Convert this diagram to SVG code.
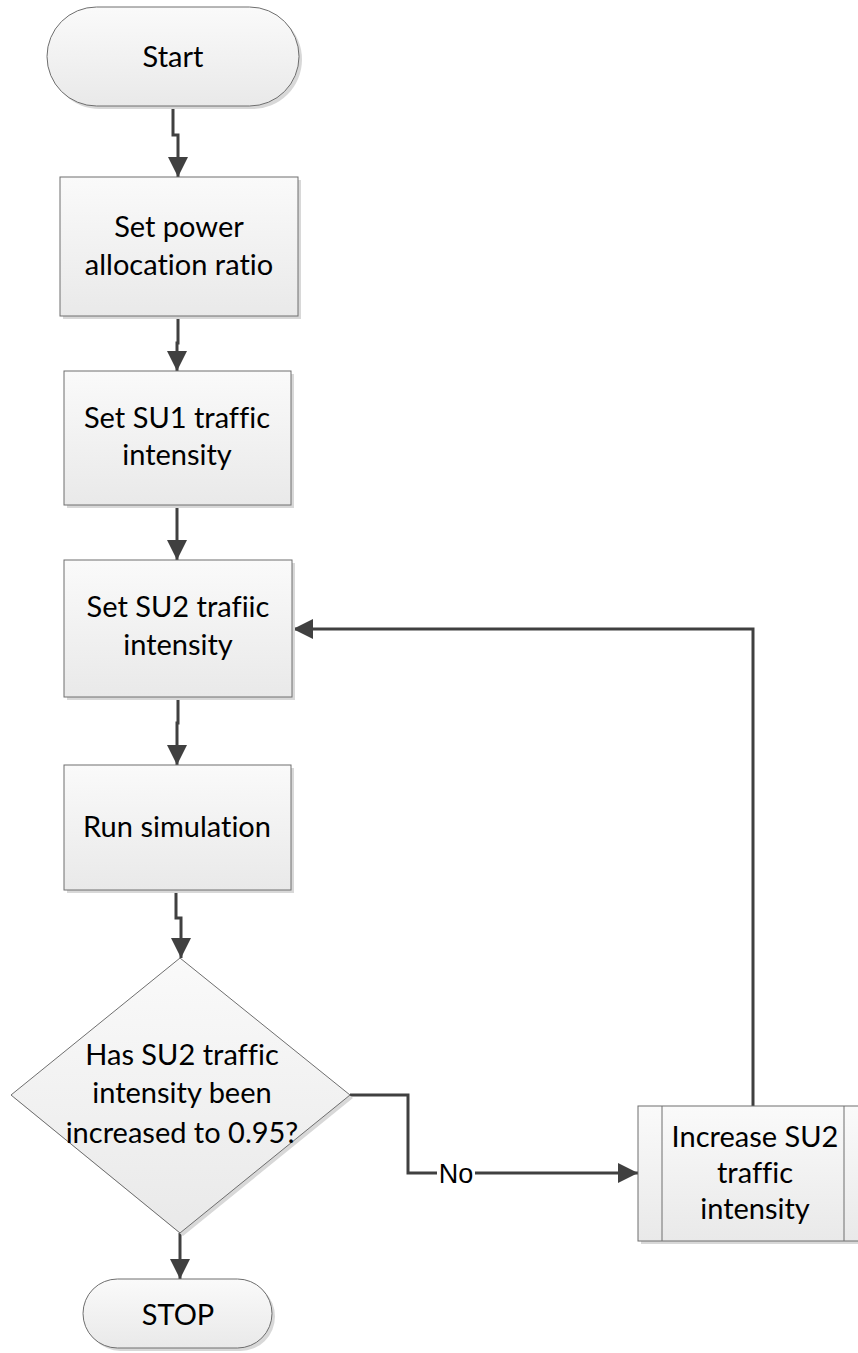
<svg xmlns="http://www.w3.org/2000/svg" width="858" height="1353" viewBox="0 0 858 1353">
<defs>
<linearGradient id="g" x1="0" y1="0" x2="0" y2="1">
<stop offset="0" stop-color="#fafafa"/>
<stop offset="1" stop-color="#e9e9e9"/>
</linearGradient>
<marker id="arr" markerUnits="userSpaceOnUse" markerWidth="22" markerHeight="22" refX="20" refY="10" orient="auto">
<path d="M0,0 L20,10 L0,20 z" fill="#404040"/>
</marker>
</defs>
<style>
.s{fill:url(#g);stroke:#6e6e6e;stroke-width:1}
.sh{fill:#d8d8d8}
.t{font-family:Lato,"Liberation Sans",sans-serif;font-size:29px;fill:#000;text-anchor:middle;font-variant-ligatures:none;font-feature-settings:"liga" 0}
.c{fill:none;stroke:#404040;stroke-width:3;stroke-linejoin:miter}
.ca{fill:none;stroke:#404040;stroke-width:3;marker-end:url(#arr)}
</style>
<rect width="858" height="1353" fill="#fff"/>
<g id="connectors">
<path class="ca" d="M173,106 V135 H178 V177"/>
<path class="ca" d="M178,316 V343 H177 V371"/>
<path class="ca" d="M177,505 V560"/>
<path class="ca" d="M178,697 V723 H177 V765"/>
<path class="ca" d="M176,890 V918 H181 V958"/>
<path class="ca" d="M180,1233 V1279"/>
<path class="ca" d="M753,1106 V629 H293"/>
<path class="ca" d="M350,1095 H408 V1173 H638"/>
<rect x="437" y="1160" width="38" height="26" fill="#fff"/>
<text class="t" x="456" y="1183" style="font-family:'Liberation Sans',Arial,sans-serif;font-size:27px">No</text>
</g>
<g id="start">
<rect class="sh" x="50" y="10" width="252" height="99" rx="49.5"/>
<rect class="s" x="47" y="7" width="252" height="99" rx="49.5"/>
<text class="t" x="173" y="67">Start</text>
</g>
<g id="set-power">
<rect class="sh" x="63" y="180" width="238" height="139"/>
<rect class="s" x="60" y="177" width="238" height="139"/>
<text class="t" x="179" y="237">Set power</text>
<text class="t" x="179" y="275">allocation ratio</text>
</g>
<g id="set-su1">
<rect class="sh" x="67" y="374" width="227" height="134"/>
<rect class="s" x="64" y="371" width="227" height="134"/>
<text class="t" x="177" y="428">Set SU1 traffic</text>
<text class="t" x="177" y="465">intensity</text>
</g>
<g id="set-su2">
<rect class="sh" x="67" y="563" width="228" height="137"/>
<rect class="s" x="64" y="560" width="228" height="137"/>
<text class="t" x="178" y="617">Set SU2 trafiic</text>
<text class="t" x="178" y="655">intensity</text>
</g>
<g id="run-sim">
<rect class="sh" x="67" y="768" width="227" height="125"/>
<rect class="s" x="64" y="765" width="227" height="125"/>
<text class="t" x="177" y="837">Run simulation</text>
</g>
<g id="decision">
<polygon class="sh" points="183,961 353,1098 183,1236 14,1098"/>
<polygon class="s" points="180,958 350,1095 180,1233 11,1095"/>
<text class="t" x="182" y="1065">Has SU2 traffic</text>
<text class="t" x="182" y="1103">intensity been</text>
<text class="t" x="182" y="1143">increased to 0.95?</text>
</g>
<g id="increase">
<rect class="sh" x="641" y="1109" width="230" height="135"/>
<rect class="s" x="638" y="1106" width="230" height="135"/>
<line x1="662" y1="1106" x2="662" y2="1241" stroke="#6e6e6e" stroke-width="1"/>
<line x1="844" y1="1106" x2="844" y2="1241" stroke="#6e6e6e" stroke-width="1"/>
<text class="t" x="755" y="1147">Increase SU2</text>
<text class="t" x="755" y="1183">traffic</text>
<text class="t" x="755" y="1219">intensity</text>
</g>
<g id="stop">
<rect class="sh" x="86" y="1282" width="189" height="69" rx="34.5"/>
<rect class="s" x="83" y="1279" width="189" height="69" rx="34.5"/>
<text class="t" x="178" y="1325">STOP</text>
</g>
</svg>
